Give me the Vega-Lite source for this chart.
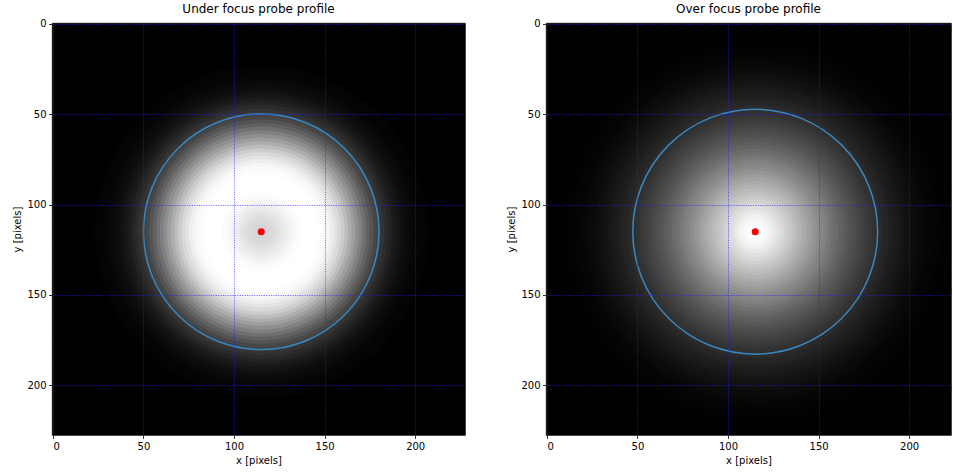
{
  "$schema": "https://vega.github.io/schema/vega-lite/v6.json",
  "padding": {"left": 12, "top": 2, "right": 0, "bottom": 0},
  "background": "white",
  "datasets": {
    "under": [
      {"r":2,"v":0.84},{"r":4,"v":0.84},{"r":6,"v":0.85},{"r":8,"v":0.86},{"r":10,"v":0.88},{"r":12,"v":0.9},{"r":14,"v":0.92},{"r":16,"v":0.94},{"r":18,"v":0.96},{"r":20,"v":0.98},
      {"r":22,"v":0.99},{"r":24,"v":1},{"r":26,"v":1},{"r":28,"v":1},{"r":30,"v":1},{"r":32,"v":1},{"r":34,"v":0.99},{"r":36,"v":0.98},{"r":38,"v":0.96},{"r":40,"v":0.93},
      {"r":42,"v":0.89},{"r":44,"v":0.85},{"r":46,"v":0.8},{"r":48,"v":0.74},{"r":50,"v":0.68},{"r":52,"v":0.62},{"r":54,"v":0.56},{"r":56,"v":0.5},{"r":58,"v":0.44},{"r":60,"v":0.38},
      {"r":62,"v":0.33},{"r":64,"v":0.28},{"r":66,"v":0.24},{"r":68,"v":0.2},{"r":70,"v":0.17},{"r":72,"v":0.14},{"r":74,"v":0.11},{"r":76,"v":0.09},{"r":78,"v":0.07},{"r":80,"v":0.055},
      {"r":82,"v":0.045},{"r":84,"v":0.035},{"r":86,"v":0.025},{"r":88,"v":0.02},{"r":90,"v":0.015},{"r":92,"v":0.01},{"r":94,"v":0.005}
    ],
    "over": [
      {"r":2,"v":1},{"r":4,"v":0.99},{"r":6,"v":0.98},{"r":8,"v":0.96},{"r":10,"v":0.94},{"r":12,"v":0.91},{"r":14,"v":0.88},{"r":16,"v":0.85},{"r":18,"v":0.82},{"r":20,"v":0.79},
      {"r":22,"v":0.76},{"r":24,"v":0.73},{"r":26,"v":0.7},{"r":28,"v":0.67},{"r":30,"v":0.64},{"r":32,"v":0.61},{"r":34,"v":0.58},{"r":36,"v":0.55},{"r":38,"v":0.52},{"r":40,"v":0.5},
      {"r":42,"v":0.47},{"r":44,"v":0.44},{"r":46,"v":0.42},{"r":48,"v":0.39},{"r":50,"v":0.37},{"r":52,"v":0.34},{"r":54,"v":0.32},{"r":56,"v":0.3},{"r":58,"v":0.28},{"r":60,"v":0.26},
      {"r":62,"v":0.24},{"r":64,"v":0.22},{"r":66,"v":0.2},{"r":68,"v":0.19},{"r":70,"v":0.17},{"r":72,"v":0.15},{"r":74,"v":0.14},{"r":76,"v":0.12},{"r":78,"v":0.11},{"r":80,"v":0.1},
      {"r":82,"v":0.085},{"r":84,"v":0.075},{"r":86,"v":0.065},{"r":88,"v":0.055},{"r":90,"v":0.045},{"r":92,"v":0.04},{"r":94,"v":0.03},{"r":96,"v":0.025},{"r":98,"v":0.02},{"r":100,"v":0.015},
      {"r":102,"v":0.01},{"r":104,"v":0.007},{"r":106,"v":0.004},{"r":108,"v":0.002}
    ]
  },
  "bounds": "flush",
  "spacing": 81,
  "resolve": {"scale": {"x": "independent", "y": "independent"}},
  "hconcat": [
    {
      "width": 413,
      "height": 412,
      "title": "Under focus probe profile",
      "layer": [
        {
          "data": {"name": "under"},
          "mark": {"type": "circle", "opacity": 1, "strokeWidth": 0, "clip": true},
          "encoding": {
            "x": {"datum": 115, "type": "quantitative", "scale": {"domain": [-0.5, 227.5], "nice": false, "zero": false}, "axis": {"title": "x [pixels]", "values": [0, 50, 100, 150, 200], "zindex": 1}},
            "y": {"datum": 115, "type": "quantitative", "scale": {"domain": [-0.5, 227.5], "nice": false, "zero": false, "reverse": true}, "axis": {"title": "y [pixels]", "values": [0, 50, 100, 150, 200], "zindex": 1}},
            "size": {"field": "r", "type": "quantitative", "scale": {"type": "pow", "exponent": 2, "domain": [0, 100], "range": [0, 131247]}, "legend": null},
            "color": {"field": "v", "type": "quantitative", "scale": {"domain": [0, 1], "range": ["#000000", "#ffffff"], "interpolate": "rgb"}, "legend": null},
            "order": {"field": "r", "sort": "descending"}
          }
        },
        {
          "data": {"values": [{"cx": 115, "cy": 115, "r": 65}]},
          "mark": {"type": "point", "shape": "circle", "filled": false, "stroke": "#3a87c0", "strokeWidth": 1.5, "opacity": 1},
          "encoding": {
            "x": {"field": "cx", "type": "quantitative"},
            "y": {"field": "cy", "type": "quantitative"},
            "size": {"field": "r", "type": "quantitative", "scale": {"type": "pow", "exponent": 2, "domain": [0, 100], "range": [0, 131247]}, "legend": null}
          }
        },
        {
          "data": {"values": [{"cx": 115, "cy": 115}]},
          "mark": {"type": "circle", "color": "#ff0000", "opacity": 1, "size": 49},
          "encoding": {
            "x": {"field": "cx", "type": "quantitative"},
            "y": {"field": "cy", "type": "quantitative"}
          }
        }
      ]
    },
    {
      "width": 405,
      "height": 412,
      "title": "Over focus probe profile",
      "layer": [
        {
          "data": {"name": "over"},
          "mark": {"type": "circle", "opacity": 1, "strokeWidth": 0, "clip": true},
          "encoding": {
            "x": {"datum": 115, "type": "quantitative", "scale": {"domain": [-0.5, 223.1], "nice": false, "zero": false}, "axis": {"title": "x [pixels]", "values": [0, 50, 100, 150, 200], "zindex": 1}},
            "y": {"datum": 115, "type": "quantitative", "scale": {"domain": [-0.5, 227.5], "nice": false, "zero": false, "reverse": true}, "axis": {"title": "y [pixels]", "values": [0, 50, 100, 150, 200], "zindex": 1}},
            "size": {"field": "r", "type": "quantitative", "scale": {"type": "pow", "exponent": 2, "domain": [0, 100], "range": [0, 131247]}, "legend": null},
            "color": {"field": "v", "type": "quantitative", "scale": {"domain": [0, 1], "range": ["#000000", "#ffffff"], "interpolate": "rgb"}, "legend": null},
            "order": {"field": "r", "sort": "descending"}
          }
        },
        {
          "data": {"values": [{"cx": 115, "cy": 115, "r": 67.6}]},
          "mark": {"type": "point", "shape": "circle", "filled": false, "stroke": "#3a87c0", "strokeWidth": 1.5, "opacity": 1, "clip": true},
          "encoding": {
            "x": {"field": "cx", "type": "quantitative"},
            "y": {"field": "cy", "type": "quantitative"},
            "size": {"field": "r", "type": "quantitative", "scale": {"type": "pow", "exponent": 2, "domain": [0, 100], "range": [0, 131247]}, "legend": null}
          }
        },
        {
          "data": {"values": [{"cx": 115, "cy": 115}]},
          "mark": {"type": "circle", "color": "#ff0000", "opacity": 1, "size": 49},
          "encoding": {
            "x": {"field": "cx", "type": "quantitative"},
            "y": {"field": "cy", "type": "quantitative"}
          }
        }
      ]
    }
  ],
  "config": {
    "font": "DejaVu Sans",
    "view": {"fill": "#000000", "stroke": "#000000", "strokeWidth": 0.8},
    "title": {"fontSize": 12, "fontWeight": "normal", "color": "#000000", "offset": 3, "anchor": "middle"},
    "axis": {
      "grid": true,
      "gridColor": "#2020ff",
      "gridOpacity": 0.6,
      "gridWidth": 1,
      "gridDash": [1.2, 1.2],
      "domain": false,
      "ticks": true,
      "tickColor": "#000000",
      "tickSize": 3.5,
      "tickWidth": 0.8,
      "labelFontSize": 10,
      "labelColor": "#000000",
      "labelPadding": 2.5,
      "titleFontSize": 10,
      "titleFontWeight": "normal",
      "titleColor": "#000000",
      "titlePadding": 4
    },
    "axisX": {"labelAngle": 0},
    "axisY": {"labelAngle": 0}
  }
}
